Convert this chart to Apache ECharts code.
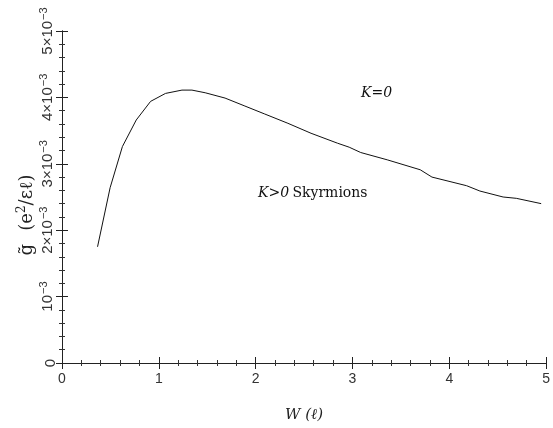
<!DOCTYPE html>
<html>
<head>
<meta charset="utf-8">
<script src="https://cdn.jsdelivr.net/npm/echarts@6/dist/echarts.min.js"></script>
<style>
  html, body { margin: 0; padding: 0; background: #fff; }
  #chart { width: 553px; height: 428px; }
</style>
</head>
<body>
<div id="chart"></div>
<script>
// Skyrmion gap curve: W in units of magnetic length, g in e^2/(eps l)
const wValues = [0.367, 0.497, 0.624, 0.767, 0.915, 1.069, 1.239, 1.342, 1.479, 1.684,
                 1.889, 2.094, 2.333, 2.572, 2.846, 2.966, 3.085, 3.359, 3.700, 3.821,
                 4.179, 4.316, 4.556, 4.692, 4.949];
const gValues = [1.75e-3, 2.64e-3, 3.26e-3, 3.66e-3, 3.94e-3, 4.06e-3, 4.11e-3, 4.11e-3, 4.07e-3, 3.99e-3,
                 3.87e-3, 3.75e-3, 3.61e-3, 3.46e-3, 3.31e-3, 3.25e-3, 3.17e-3, 3.06e-3, 2.91e-3, 2.80e-3,
                 2.67e-3, 2.59e-3, 2.50e-3, 2.48e-3, 2.40e-3];
const xTickLabels = ['0', '1', '2', '3', '4', '5'];
// y tick labels as rich text: mantissa part and exponent part
const yTickLabels = [
  '{b|0}',
  '{b|10}{s|−3}',
  '{b|2×10}{s|−3}',
  '{b|3×10}{s|−3}',
  '{b|4×10}{s|−3}',
  '{b|5×10}{s|−3}'
];

const seriesData = wValues.map((w, i) => [w, gValues[i]]);

const SANS = 'Liberation Sans';
const SERIF = 'DejaVu Serif';

const frame = { lineStyle: { color: '#222', width: 1 } };
const ticks = { inside: true, length: 6, lineStyle: { color: '#222', width: 1 } };
const minor = { show: true, splitNumber: 5, length: 3, lineStyle: { color: '#333', width: 1 } };

const chart = echarts.init(document.getElementById('chart'), null, { renderer: 'canvas' });
chart.setOption({
  animation: false,
  backgroundColor: '#fff',
  grid: { left: 62, right: 4, top: 31, bottom: 63, containLabel: false },
  xAxis: [
    {
      type: 'value', min: 0, max: 5, interval: 1, position: 'bottom',
      axisLine: frame, axisTick: ticks, minorTick: minor,
      splitLine: { show: false },
      axisLabel: {
        margin: 9, fontFamily: SANS, fontSize: 14, color: '#333',
        formatter: v => xTickLabels[Math.round(v)]
      },
      name: 'W (ℓ)', nameLocation: 'middle', nameGap: 45, nameMoveOverlap: false,
      nameTextStyle: { fontFamily: SERIF, fontStyle: 'italic', fontSize: 15, color: '#222' }
    },
    {
      type: 'value', min: 0, max: 5, interval: 1, position: 'top',
      axisLine: frame, axisTick: ticks, minorTick: minor,
      splitLine: { show: false }, axisLabel: { show: false }
    }
  ],
  yAxis: [
    {
      type: 'value', min: 0, max: 0.005, interval: 0.001, position: 'left',
      axisLine: frame, axisTick: ticks, minorTick: minor,
      splitLine: { show: false },
      axisLabel: {
        rotate: 90, margin: 4, color: '#333',
        formatter: v => yTickLabels[Math.round(v * 1000)],
        rich: {
          b: { fontFamily: SANS, fontSize: 15, color: '#333' },
          s: { fontFamily: SANS, fontSize: 11, color: '#333', padding: [0, 0, 9, 1] }
        }
      },
      name: '{g|g̃}    {t|(e}{p|2}{t|/εℓ)}', nameLocation: 'middle', nameGap: 24, nameRotate: 90,
      nameMoveOverlap: false,
      nameTextStyle: {
        padding: [0, 36, 0, 0],
        rich: {
          g: { fontFamily: SERIF, fontSize: 18, color: '#222' },
          t: { fontFamily: SERIF, fontSize: 18, color: '#222' },
          p: { fontFamily: SERIF, fontSize: 12, color: '#222', padding: [0, 0, 10, 0] }
        }
      }
    },
    {
      type: 'value', min: 0, max: 0.005, interval: 0.001, position: 'right',
      axisLine: frame, axisTick: ticks, minorTick: minor,
      splitLine: { show: false }, axisLabel: { show: false }
    }
  ],
  series: [
    {
      type: 'line', data: seriesData, showSymbol: false, smooth: false,
      lineStyle: { color: '#111', width: 1 }
    }
  ],
  graphic: [
    {
      type: 'text', left: 361, top: 86,
      style: { text: 'K=0', font: 'italic 14px "DejaVu Serif", serif', fill: '#111' }
    },
    {
      type: 'text', left: 258, top: 186,
      style: {
        text: '{i|K>0} {r|Skyrmions}',
        rich: {
          i: { font: 'italic 14px "DejaVu Serif", serif', fill: '#111' },
          r: { font: '14px "DejaVu Serif", serif', fill: '#111' }
        }
      }
    }
  ]
});
</script>
</body>
</html>
